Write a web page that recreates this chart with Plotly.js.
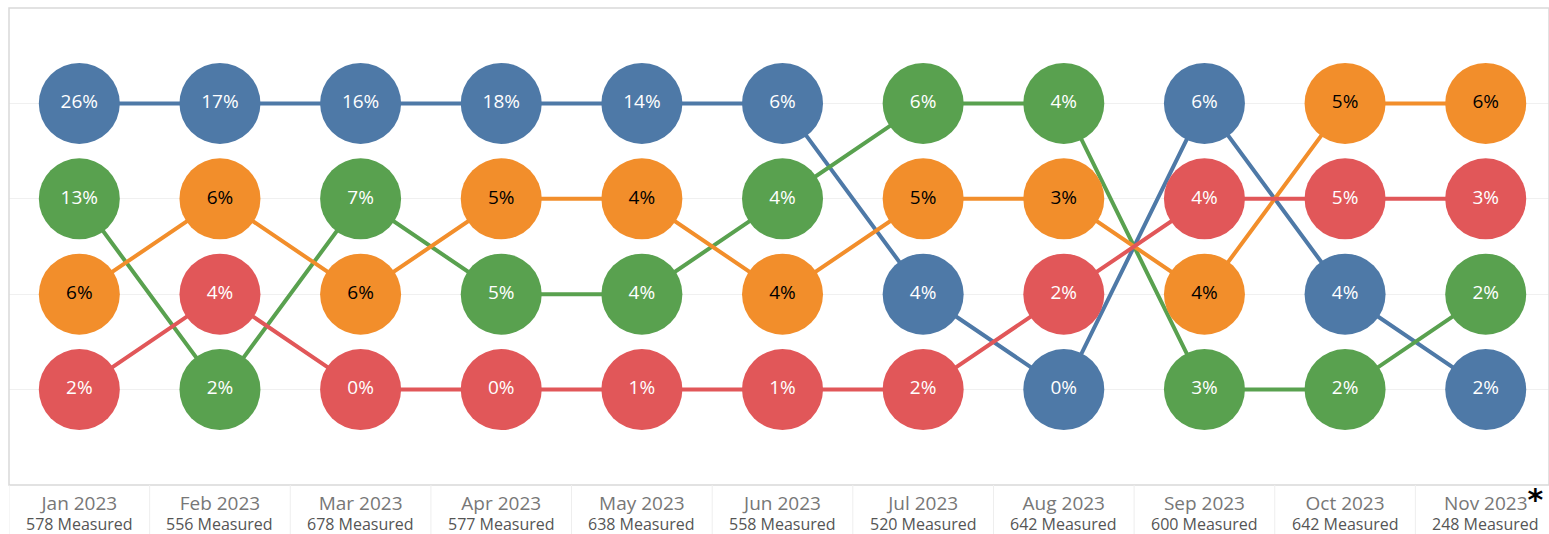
<!DOCTYPE html>
<html>
<head>
<meta charset="utf-8">
<script src="https://cdn.plot.ly/plotly-3.0.1.min.js"></script>
<style>html,body{margin:0;padding:0;background:#fff;}#chart{width:1549px;height:534px;}</style>
</head>
<body>
<div id="chart"></div>
<script>
var months = ["Jan 2023","Feb 2023","Mar 2023","Apr 2023","May 2023","Jun 2023","Jul 2023","Aug 2023","Sep 2023","Oct 2023","Nov 2023"];
var measured = [578,556,678,577,638,558,520,642,600,642,248];
var footnoteMark = "*";

var blueRank   = [1,1,1,1,1,1,3,4,1,3,4];
var blueValue  = [26,17,16,18,14,6,4,0,6,4,2];
var greenRank  = [2,4,2,3,3,2,1,1,4,4,3];
var greenValue = [13,2,7,5,4,4,6,4,3,2,2];
var orangeRank = [3,2,3,2,2,3,2,2,3,1,1];
var orangeValue= [6,6,6,5,4,4,5,3,4,5,6];
var redRank    = [4,3,4,4,4,4,4,3,2,2,2];
var redValue   = [2,4,0,0,1,1,2,2,4,5,3];

var series = [
  {name:"Blue",   rank:blueRank,   value:blueValue,   color:"#4e79a7", text:"#ffffff"},
  {name:"Green",  rank:greenRank,  value:greenValue,  color:"#59a14f", text:"#ffffff"},
  {name:"Orange", rank:orangeRank, value:orangeValue, color:"#f28e2b", text:"#000000"},
  {name:"Red",    rank:redRank,    value:redValue,    color:"#e15759", text:"#ffffff"}
];

var xIdx = months.map(function(m,i){return i;});
var traces = [];
series.forEach(function(s){
  traces.push({x:xIdx, y:s.rank, type:"scatter", mode:"lines", hoverinfo:"skip",
    line:{color:s.color, width:4}, showlegend:false});
});
series.forEach(function(s){
  traces.push({x:xIdx, y:s.rank, type:"scatter", mode:"markers+text", hoverinfo:"skip",
    marker:{color:s.color, size:81, line:{width:0}},
    text:s.value.map(function(v){return v+"%";}),
    textposition:"middle center",
    textfont:{family:"Open Sans, sans-serif", size:19, color:s.text},
    showlegend:false, cliponaxis:false});
});

var tickText = months.map(function(m,i){
  if (i === months.length-1) {
    var st = "font-size:30px;font-family:DejaVu Sans;";
    return "<span style='" + st + "color:rgba(0,0,0,0)'><b>" + footnoteMark + "</b></span>" + m +
           "<span style='" + st + "color:#000000'><b>" + footnoteMark + "</b></span>";
  }
  return m;
});

var shapes = [{type:"rect", xref:"paper", yref:"paper", x0:0, x1:1, y0:0, y1:1,
  line:{color:"#d9d9d9", width:1.5}, fillcolor:"rgba(0,0,0,0)", layer:"above"}];
for (var k=0;k<months.length;k++){
  shapes.push({type:"line", xref:"x", yref:"paper", x0:k-0.5, x1:k-0.5, y0:0, y1:-0.11,
    line:{color:"#eeeeee", width:1}});
}

var annotations = measured.map(function(m,i){
  return {text: m + " Measured", xref:"x", yref:"paper", x:i, y:0, xanchor:"center", yanchor:"middle",
    yshift:-39, showarrow:false, font:{family:"Open Sans, sans-serif", size:16, color:"#555555"}};
});

var layout = {
  width:1549, height:534,
  margin:{l:9, r:0, t:8, b:49},
  paper_bgcolor:"#ffffff", plot_bgcolor:"#ffffff",
  showlegend:false,
  xaxis:{range:[-0.5,10.45], tickmode:"array", tickvals:xIdx, ticktext:tickText,
    showgrid:false, zeroline:false, showline:false, ticks:"", ticklabelstandoff:5,
    tickfont:{family:"Open Sans, sans-serif", size:19, color:"#777777"}, fixedrange:true},
  yaxis:{range:[5,0], tickmode:"array", tickvals:[1,2,3,4], showticklabels:false,
    showgrid:true, gridcolor:"#f0f0f0", gridwidth:1, zeroline:false, showline:false, fixedrange:true},
  shapes:shapes,
  annotations:annotations
};

Plotly.newPlot("chart", traces, layout, {displayModeBar:false, staticPlot:true});
</script>
</body>
</html>
